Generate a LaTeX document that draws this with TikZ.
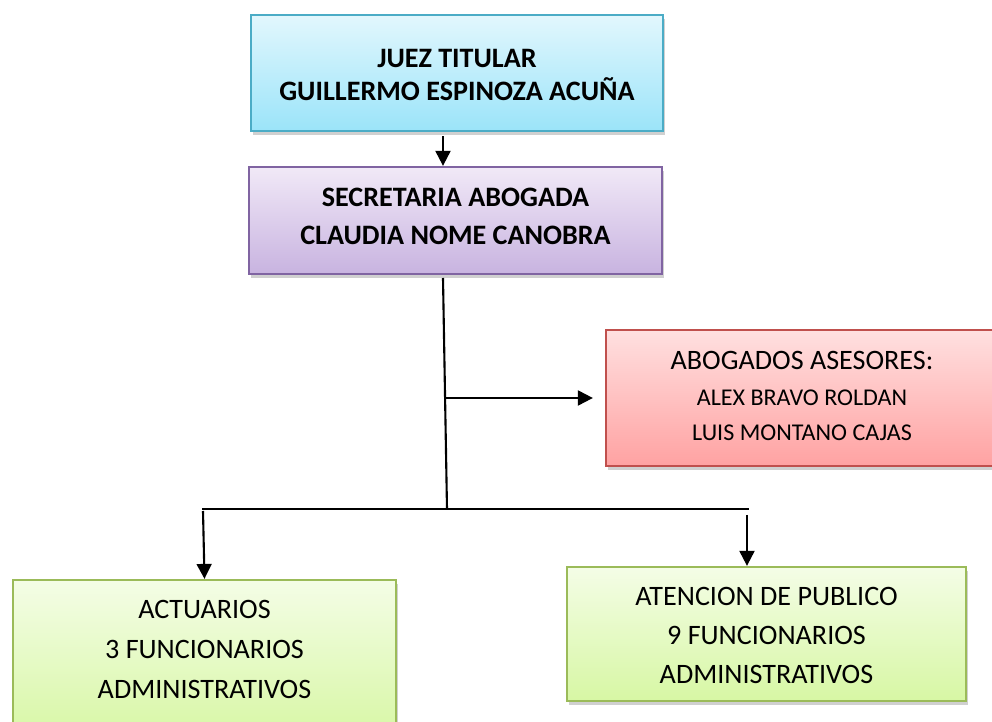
\documentclass[tikz,border=0pt]{standalone}
\usepackage{fontspec}
\setmainfont{Carlito}
\usetikzlibrary{arrows.meta,shadows}
\definecolor{cyanT}{HTML}{E2F7FD}
\definecolor{cyanB}{HTML}{9BE4F9}
\definecolor{cyanD}{HTML}{4BACC6}
\definecolor{purT}{HTML}{F1E9F7}
\definecolor{purB}{HTML}{C8B3E0}
\definecolor{purD}{HTML}{8064A2}
\definecolor{redT}{HTML}{FFE0E0}
\definecolor{redB}{HTML}{FFA2A2}
\definecolor{redD}{HTML}{C0504D}
\definecolor{grnT}{HTML}{F4FDE6}
\definecolor{grnB}{HTML}{D7F7A4}
\definecolor{grnD}{HTML}{9BBB59}
\tikzset{
  boxbase/.style={rectangle, line width=1.3pt, inner sep=0pt,
    drop shadow={shadow xshift=1pt, shadow yshift=-2.5pt, opacity=0.3, fill=black!60}},
  cyanbox/.style={boxbase, draw=cyanD, top color=cyanT, bottom color=cyanB},
  purbox/.style={boxbase, draw=purD, top color=purT, bottom color=purB},
  redbox/.style={boxbase, draw=redD, top color=redT, bottom color=redB},
  grnbox/.style={boxbase, draw=grnD, top color=grnT, bottom color=grnB},
  txt/.style={align=center, inner sep=0pt, text=black},
  conn/.style={line width=1.2pt, draw=black},
  arr/.style={conn, -{Triangle[length=8.5pt,width=8.5pt]}}
}
\begin{document}
\begin{tikzpicture}[x=0.02cm,y=-0.02cm]
\useasboundingbox (0,0) rectangle (992,722);
\clip (0,0) rectangle (992,722);
\fill[white] (0,0) rectangle (992,722);

% boxes
\node[cyanbox, minimum width=412*0.02cm, minimum height=116*0.02cm] (juez) at (457,73) {};
\node[purbox, minimum width=413*0.02cm, minimum height=107*0.02cm] (sec) at (455.5,220.5) {};
\node[redbox, minimum width=392*0.02cm, minimum height=136*0.02cm] (ase) at (802,398) {};
\node[grnbox, minimum width=383*0.02cm, minimum height=160*0.02cm] (act) at (204.5,660) {};
\node[grnbox, minimum width=399*0.02cm, minimum height=134*0.02cm] (ate) at (766.5,634) {};

% texts
\node[txt, font=\bfseries\fontsize{16}{19.3}\selectfont] (tjuez) at (457,75)
  {JUEZ TITULAR\\GUILLERMO ESPINOZA ACUÑA};
\node[txt, font=\bfseries\fontsize{16}{22}\selectfont] (tsec) at (455.5,216.5)
  {SECRETARIA ABOGADA\\CLAUDIA NOME CANOBRA};
\node[txt, font=\fontsize{16}{20.4}\selectfont] (tase) at (802,396)
  {ABOGADOS ASESORES:\\{\fontsize{13.7}{19.3}\selectfont ALEX BRAVO ROLDAN}\\{\fontsize{13.7}{19.3}\selectfont LUIS MONTANO CAJAS}};
\node[txt, font=\fontsize{16}{22.7}\selectfont] (tact) at (204.5,649.5)
  {ACTUARIOS\\3 FUNCIONARIOS\\ADMINISTRATIVOS};
\node[txt, font=\fontsize{16}{22.3}\selectfont] (tate) at (766.5,635.5)
  {ATENCION DE PUBLICO\\9 FUNCIONARIOS\\ADMINISTRATIVOS};

% connectors
\coordinate (jtop) at (443,278);
\coordinate (jbot) at (447,509);
\coordinate (jmid) at (445,398);
\coordinate (hl) at (202,509);
\coordinate (hr) at (749,509);
\coordinate (la) at (203,511);
\coordinate (ra) at (747,515);

\draw[arr] ([xshift=-14*0.02cm,yshift=-4*0.02cm]juez.south) -- ([xshift=-14*0.02cm]juez.south |- sec.north);
\draw[conn] (jtop) -- (jbot);
\draw[conn] (hl) -- (hr);
\draw[arr, shorten >=12*0.02cm] (jmid) -- (ase.west);
\draw[arr] (la) -- (act.north);
\draw[arr] (ra) -- (ra |- ate.north);
\end{tikzpicture}
\end{document}
